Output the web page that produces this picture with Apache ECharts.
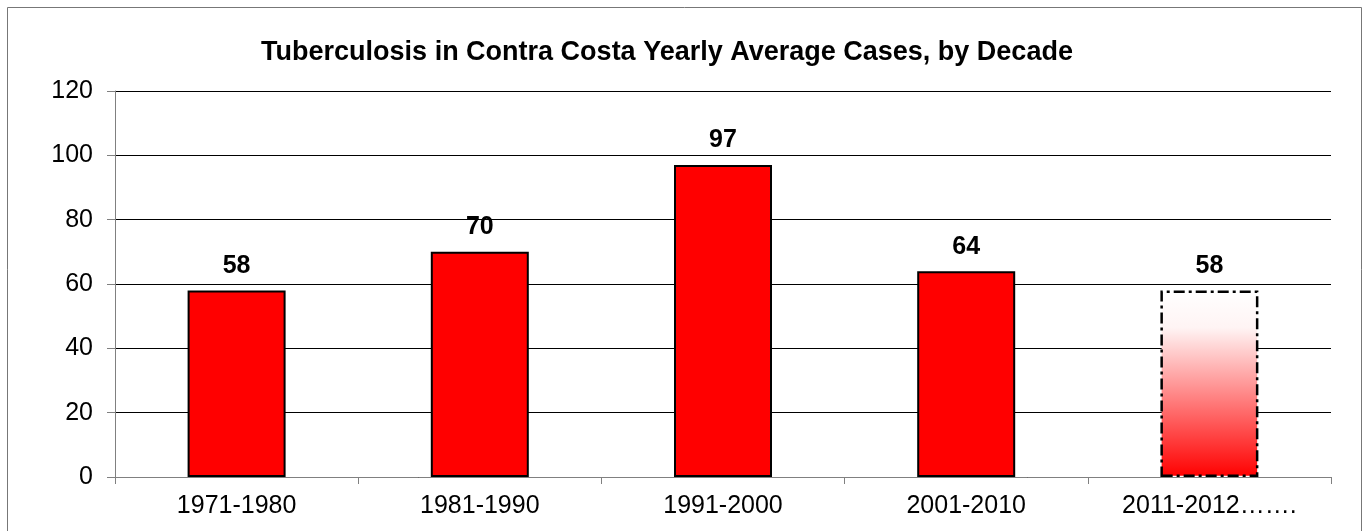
<!DOCTYPE html>
<html>
<head>
<meta charset="utf-8">
<script src="https://cdn.jsdelivr.net/npm/echarts@6/dist/echarts.min.js"></script>
<style>
  html, body { margin: 0; padding: 0; background: #fff; }
  #chart { width: 1364px; height: 531px; }
</style>
</head>
<body>
<div id="chart"></div>
<script>
// decades and yearly average TB cases
var decades = ['1971-1980', '1981-1990', '1991-2000', '2001-2010', '2011-2012…….'];
var avgCases = [58, 70, 97, 64, 58];
var partialIdx = 4; // last decade is incomplete -> faded bar

var fontFam = 'Liberation Sans, Arial, sans-serif';

var barData = avgCases.map(function (v, i) {
    if (i !== partialIdx) return v;
    return {
        value: v,
        itemStyle: {
            color: new echarts.graphic.LinearGradient(0, 0, 0, 1, [
                { offset: 0, color: '#ffffff' },
                { offset: 0.2, color: '#fff4f4' },
                { offset: 1, color: '#ff0000' }
            ]),
            borderColor: '#000',
            borderWidth: 2.5,
            borderType: [11, 4, 3, 4]
        }
    };
});

var chart = echarts.init(document.getElementById('chart'));
chart.setOption({
    animation: false,
    title: {
        text: 'Tuberculosis in Contra Costa Yearly Average Cases, by Decade',
        left: 662, top: 34, textAlign: 'center',
        textStyle: { fontFamily: fontFam, fontSize: 27, fontWeight: 'bold', color: '#000' }
    },
    graphic: [{
        type: 'rect',
        shape: { x: 7.5, y: 7.5, width: 1354, height: 540 },
        style: { fill: 'none', stroke: '#777', lineWidth: 1 },
        silent: true
    }],
    grid: { left: 115, right: 33, top: 91, bottom: 54 },
    xAxis: {
        type: 'category',
        data: decades,
        axisLine: { lineStyle: { color: '#808080', width: 1 } },
        axisTick: { show: true, length: 7, lineStyle: { color: '#808080' } },
        axisLabel: { fontFamily: fontFam, fontSize: 25, color: '#000', margin: 17 }
    },
    yAxis: {
        type: 'value',
        min: 0, max: 120, interval: 20,
        axisLine: { show: true, lineStyle: { color: '#808080', width: 1 } },
        axisTick: { show: true, length: 8, lineStyle: { color: '#808080' } },
        axisLabel: { fontFamily: fontFam, fontSize: 25, color: '#000', margin: 22 },
        splitLine: { lineStyle: { color: '#000', width: 1 } }
    },
    series: [{
        type: 'bar',
        data: barData,
        barWidth: 98,
        itemStyle: { color: '#ff0000', borderColor: '#000', borderWidth: 2 },
        label: {
            show: true, position: 'top', distance: 12,
            fontFamily: fontFam, fontSize: 25, fontWeight: 'bold', color: '#000'
        }
    }]
});
</script>
</body>
</html>
